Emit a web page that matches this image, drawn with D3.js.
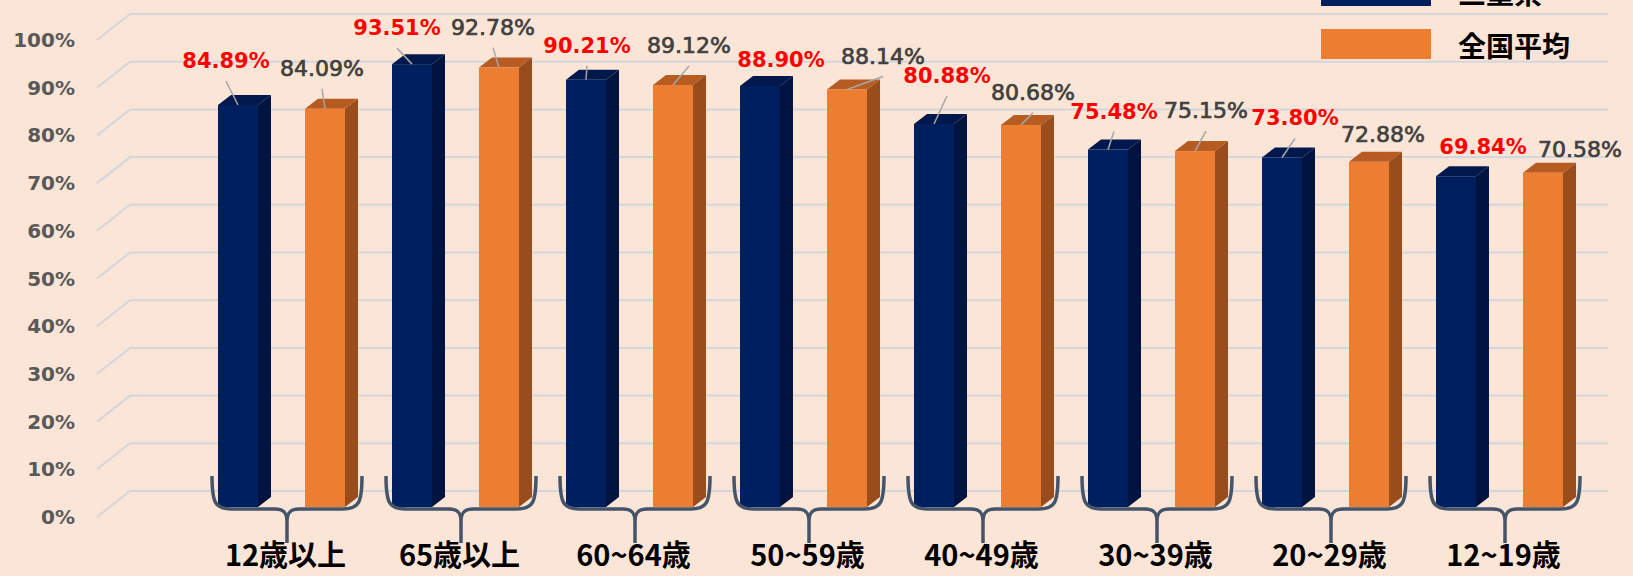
<!DOCTYPE html>
<html>
<head>
<meta charset="utf-8">
<script src="https://cdn.jsdelivr.net/npm/d3@7"></script>
<style>
  html, body { margin: 0; padding: 0; background: #FBE5D6; }
  svg { display: block; }
</style>
</head>
<body>
<svg id="chart" width="1633" height="576"></svg>
<script>
// Age groups and the two compared series (share, 0–1)
const categories = ["12歳以上", "65歳以上", "60~64歳", "50~59歳", "40~49歳", "30~39歳", "20~29歳", "12~19歳"];
const seriesNames = ["三重県", "全国平均"];
const mieValues = [0.8489, 0.9351, 0.9021, 0.8890, 0.8088, 0.7548, 0.7380, 0.6984];
const nationalValues = [0.8409, 0.9278, 0.8912, 0.8814, 0.8068, 0.7515, 0.7288, 0.7058];
const yTicks = [0, 0.1, 0.2, 0.3, 0.4, 0.5, 0.6, 0.7, 0.8, 0.9, 1.0];

// Label placement relative to the top of each bar: [dx, dy to baseline]
const mieLabelOffset = [[-12, -37], [-15, -29], [1, -27], [21, -19], [13, -41], [6, -31], [13, -32], [27, -22]];
const nationalLabelOffset = [[-3, -33], [-6, -33], [16, -32], [36, -26], [12, -25], [11, -33], [14, -20], [37, -16]];

const svg = d3.select("#chart");
const W = 1633, H = 576;

svg.append("rect").attr("width", W).attr("height", H).attr("fill", "#FBE5D6");

// 3D geometry
const depth = { dx: 13, dy: -10 };     // bar side/top offset
const wall = { dx: 33, dy: -26 };      // gridline floor-to-wall offset
const barWidth = 40;

// Scales
const x0 = d3.scaleBand().domain(categories).range([194.5, 194.5 + 174 * categories.length]).padding(0);
const x1 = d3.scaleBand().domain(seriesNames).range([0, x0.bandwidth()]).padding(0);
const y = d3.scaleLinear().domain([0, 1]).range([507, 33.4]);       // bar front plane
const yGrid = d3.scaleLinear().domain([0, 1]).range([517, 40]);     // gridline front edge

const wallLeft = 97, wallRight = 1608 - wall.dx;

// Gridlines (front diagonal + back horizontal)
const grid = svg.append("g").attr("fill", "none").attr("stroke", "#D3D7DD").attr("stroke-width", 2);
grid.selectAll("path").data(yTicks).join("path")
  .attr("d", d => {
    const yf = yGrid(d);
    return `M${wallLeft},${yf} L${wallLeft + wall.dx},${yf + wall.dy} L${wallRight + wall.dx},${yf + wall.dy}`;
  });

// Y axis labels
svg.append("g").selectAll("text").data(yTicks).join("text")
  .attr("x", 75).attr("y", d => yGrid(d))
  .attr("text-anchor", "end").attr("dominant-baseline", "central")
  .attr("font-family", "'DejaVu Sans', Verdana, sans-serif")
  .attr("font-weight", "bold").attr("font-size", 20)
  .attr("fill", "#595959")
  .text(d3.format(".0%"));

// Bars
const palette = {
  "三重県": { front: "#001F5E", side: "#00143F", top: "#00184C", label: "#FF0000", weight: "bold", size: 21, stroke: 0 },
  "全国平均": { front: "#ED7D31", side: "#994D1C", top: "#B65B22", label: "#404040", weight: "normal", size: 22, stroke: 0.7 }
};

const rows = [];
categories.forEach((c, i) => {
  rows.push({ cat: c, s: seriesNames[0], v: mieValues[i], off: mieLabelOffset[i] });
  rows.push({ cat: c, s: seriesNames[1], v: nationalValues[i], off: nationalLabelOffset[i] });
});
rows.forEach(r => {
  r.xl = x0(r.cat) + x1(r.s) + (x1.bandwidth() - barWidth) / 2;
  r.yt = y(r.v);
  r.yb = y(0);
});

const bars = svg.append("g").selectAll("g").data(rows).join("g");
// side face
bars.append("path")
  .attr("d", r => `M${r.xl + barWidth},${r.yt} L${r.xl + barWidth + depth.dx},${r.yt + depth.dy} L${r.xl + barWidth + depth.dx},${r.yb + depth.dy} L${r.xl + barWidth},${r.yb} Z`)
  .attr("fill", r => palette[r.s].side);
// top face
bars.append("path")
  .attr("d", r => `M${r.xl},${r.yt} L${r.xl + depth.dx},${r.yt + depth.dy} L${r.xl + barWidth + depth.dx},${r.yt + depth.dy} L${r.xl + barWidth},${r.yt} Z`)
  .attr("fill", r => palette[r.s].top);
// front face
bars.append("rect")
  .attr("x", r => r.xl).attr("y", r => r.yt)
  .attr("width", barWidth).attr("height", r => r.yb - r.yt)
  .attr("fill", r => palette[r.s].front);

// Leader lines and value labels
const labels = svg.append("g");
rows.forEach(r => {
  const p = palette[r.s];
  const cx = r.xl + barWidth / 2;
  const lx = cx + r.off[0];
  const ly = r.yt + r.off[1];
  if (r.yt - (ly + 13) >= 10) {
    labels.append("line")
      .attr("x1", lx).attr("y1", ly + 13)
      .attr("x2", cx).attr("y2", r.yt)
      .attr("stroke", "#A6A6A6").attr("stroke-width", 1.5);
  }
  labels.append("text")
    .attr("x", lx).attr("y", ly)
    .attr("text-anchor", "middle")
    .attr("font-family", "'DejaVu Sans', Verdana, sans-serif")
    .attr("font-size", p.size)
    .attr("font-weight", p.weight)
    .attr("fill", p.label)
    .attr("stroke", p.stroke ? p.label : "none")
    .attr("stroke-width", p.stroke)
    .text(d3.format(".2%")(r.v));
});

// Group braces
const braces = svg.append("g").attr("fill", "none").attr("stroke", "#44546A").attr("stroke-width", 3.5)
  .attr("stroke-linecap", "butt");
categories.forEach(c => {
  const cx = x0(c) + 92.5;
  const yTop = 476, yH = 509, yTip = 543;
  const d = `M${cx - 75},${yTop} C${cx - 75},${yH - 6} ${cx - 72},${yH} ${cx - 55},${yH} L${cx - 12},${yH} C${cx - 4},${yH} ${cx},${yH + 3} ${cx},${yH + 12} L${cx},${yTip}`
          + ` M${cx + 75},${yTop} C${cx + 75},${yH - 6} ${cx + 72},${yH} ${cx + 55},${yH} L${cx + 12},${yH} C${cx + 4},${yH} ${cx},${yH + 3} ${cx},${yH + 12}`;
  braces.append("path").attr("d", d);
});

// Category labels
svg.append("g").selectAll("text").data(categories).join("text")
  .attr("x", c => x0(c) + 91).attr("y", 566)
  .attr("text-anchor", "middle")
  .attr("font-family", "'Noto Sans CJK JP', sans-serif")
  .attr("font-weight", "bold").attr("font-size", 29)
  .attr("fill", "#000")
  .text(c => c);

// Legend
const legend = svg.append("g");
seriesNames.forEach((s, i) => {
  const top = -24 + i * 53;
  legend.append("rect").attr("x", 1321).attr("y", top).attr("width", 110).attr("height", 30)
    .attr("fill", palette[s].front);
  legend.append("text").attr("x", 1458).attr("y", top + 16)
    .attr("dominant-baseline", "central")
    .attr("font-family", "'Noto Sans CJK JP', sans-serif")
    .attr("font-weight", "bold").attr("font-size", 28)
    .attr("fill", "#000")
    .text(s);
});
</script>
</body>
</html>
